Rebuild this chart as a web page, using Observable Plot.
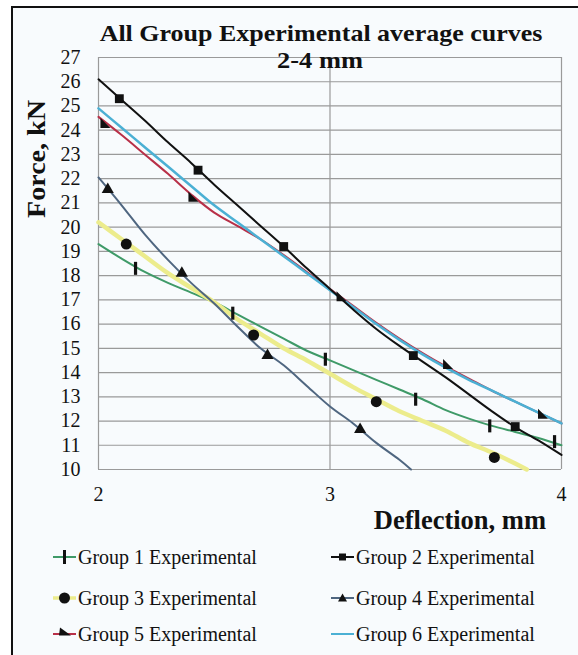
<!DOCTYPE html>
<html>
<head>
<meta charset="utf-8">
<script src="https://cdn.jsdelivr.net/npm/d3@7"></script>
<script src="https://cdn.jsdelivr.net/npm/@observablehq/plot@0.6"></script>
<style>
  html, body { margin: 0; padding: 0; background: #ffffff; }
  #wrap { position: relative; width: 578px; height: 655px; overflow: hidden; font-family: "Liberation Serif", "DejaVu Serif", serif; }
  #frame { position: absolute; left: 11px; top: 6px; width: 600px; height: 700px; border: 2px solid #111; background: #f8fbfd; box-sizing: border-box; }
  #chart { position: absolute; left: 0; top: 0; }
  .t { position: absolute; font-weight: bold; color: #111; white-space: nowrap; line-height: 1; }
  #legend { position: absolute; left: 0; top: 0; }
  .item { position: absolute; display: flex; align-items: center; font-size: 20px; line-height: 1; color: #111; white-space: nowrap; }
  .item svg { margin-right: 1px; }
</style>
</head>
<body>
<div id="wrap">
  <div id="frame"></div>
  <div id="chart"></div>
  <div class="t" id="title" style="left:321px;top:22px;font-size:23px;transform:translateX(-50%) scaleX(1.13);">All Group Experimental average curves</div>
  <div class="t" id="sub" style="left:320px;top:49px;font-size:23px;transform:translateX(-50%) scaleX(1.15);">2-4 mm</div>
  <div class="t" id="ylab" style="left:37px;top:159px;font-size:26px;transform:translate(-50%,-50%) rotate(-90deg) scaleX(1.08);">Force, kN</div>
  <div class="t" id="xlab" style="right:32px;top:507px;font-size:26.5px;">Deflection, mm</div>
  <div id="legend"></div>
</div>
<script>
// ---- data ----
const xs = [2, 2.1, 2.2, 2.3, 2.4, 2.5, 2.6, 2.7, 2.8, 2.9, 3.0, 3.1, 3.2, 3.3, 3.4, 3.5, 3.6, 3.7, 3.8, 3.9, 4.0];

const g1 = [19.3, 18.7, 18.15, 17.7, 17.3, 16.9, 16.4, 15.9, 15.4, 14.9, 14.5, 14.1, 13.7, 13.3, 12.9, 12.45, 12.1, 11.8, 11.55, 11.3, 11.0];
const g2 = [26.1, 25.25, 24.4, 23.5, 22.65, 21.75, 20.9, 20.05, 19.2, 18.3, 17.45, 16.6, 15.8, 15.1, 14.45, 13.8, 13.1, 12.4, 11.75, 11.2, 10.6];
const g3x = [2, 2.1, 2.2, 2.3, 2.4, 2.5, 2.6, 2.7, 2.8, 2.9, 3.0, 3.1, 3.2, 3.3, 3.4, 3.5, 3.6, 3.7, 3.8, 3.85];
const g3 = [20.2, 19.5, 18.8, 18.1, 17.5, 16.9, 16.2, 15.6, 15.0, 14.5, 13.95, 13.4, 12.9, 12.4, 12.0, 11.6, 11.1, 10.7, 10.25, 10.0];
const g4x = [2, 2.1, 2.2, 2.3, 2.4, 2.5, 2.6, 2.7, 2.8, 2.9, 3.0, 3.1, 3.2, 3.3, 3.35];
const g4 = [22.05, 20.9, 19.7, 18.65, 17.7, 16.85, 15.9, 15.0, 14.3, 13.45, 12.6, 11.9, 11.1, 10.4, 10.0];
const g5 = [24.55, 23.8, 23.0, 22.2, 21.35, 20.6, 20.05, 19.5, 18.85, 18.15, 17.45, 16.75, 16.05, 15.4, 14.8, 14.25, 13.75, 13.25, 12.8, 12.35, 11.9];
const g6 = [24.9, 24.1, 23.3, 22.5, 21.7, 20.9, 20.2, 19.5, 18.8, 18.1, 17.4, 16.7, 16.0, 15.35, 14.75, 14.2, 13.7, 13.25, 12.8, 12.35, 11.9];

// marker positions
const m1x = [2.16, 2.58, 2.98, 3.37, 3.69, 3.97];
const m1y = [18.3, 16.45, 14.55, 12.9, 11.8, 11.15];
const m2x = [2.09, 2.43, 2.8, 3.36, 3.8];
const m2y = [25.3, 22.35, 19.2, 14.7, 11.77];
const m3x = [2.12, 2.67, 3.2, 3.71];
const m3y = [19.3, 15.55, 12.8, 10.5];
const m4x = [2.04, 2.36, 2.73, 3.13];
const m4y = [21.55, 18.1, 14.7, 11.65];
const m5x = [2.03, 2.41, 3.05, 3.51, 3.92];
const m5y = [24.3, 21.25, 17.15, 14.35, 12.3];

const yTicks = d3.range(10, 28);
const xTicks = [2, 3, 4];

const names = ["Group 1 Experimental", "Group 2 Experimental", "Group 3 Experimental",
               "Group 4 Experimental", "Group 5 Experimental", "Group 6 Experimental"];
const colors = ["#3f9a68", "#111111", "#ecec8c", "#4f6680", "#b83048", "#4bb0d4"];
const widths = [2, 2, 4.5, 2, 2, 2.5];

// ---- build tables ----
const pts = (x, y) => x.map((v, i) => ({x: v, y: y[i]}));
const lines = [pts(xs, g1), pts(xs, g2), pts(g3x, g3), pts(g4x, g4), pts(xs, g5), pts(xs, g6)];

// custom symbols
const vbar = {draw(ctx, size) { const h = 6.5, w = 1.6; ctx.moveTo(-w, -h); ctx.lineTo(w, -h); ctx.lineTo(w, h); ctx.lineTo(-w, h); ctx.closePath(); }};
const rtri = {draw(ctx, size) { const r = 5; ctx.moveTo(-r, -r); ctx.lineTo(r, r); ctx.lineTo(-r, r); ctx.closePath(); }};

const drawOrder = [0, 2, 3, 4, 5, 1];
const marks = [
  Plot.gridY(yTicks, {stroke: "#9a9a9a", strokeOpacity: 1, strokeWidth: 1.2}),
  Plot.gridX(xTicks, {stroke: "#9a9a9a", strokeOpacity: 1, strokeWidth: 1.2}),
];
for (const i of drawOrder) {
  marks.push(Plot.line(lines[i], {x: "x", y: "y", stroke: colors[i], strokeWidth: widths[i], curve: "catmull-rom"}));
}
marks.push(
  Plot.dot(pts(m1x, m1y), {x: "x", y: "y", symbol: vbar, fill: "#111", stroke: "none", r: 5}),
  Plot.dot(pts(m2x, m2y), {x: "x", y: "y", symbol: "square", fill: "#111", stroke: "none", r: 5}),
  Plot.dot(pts(m3x, m3y), {x: "x", y: "y", symbol: "circle", fill: "#111", stroke: "none", r: 5.5}),
  Plot.dot(pts(m4x, m4y), {x: "x", y: "y", symbol: "triangle", fill: "#111", stroke: "none", r: 4.5}),
  Plot.dot(pts(m5x, m5y), {x: "x", y: "y", symbol: rtri, fill: "#111", stroke: "none", r: 5})
);

const chart = Plot.plot({
  width: 578,
  height: 505,
  marginLeft: 98,
  marginRight: 17,
  marginTop: 57,
  marginBottom: 36,
  style: {fontFamily: "Liberation Serif, serif", fontSize: "20px", color: "#111", background: "transparent"},
  x: {domain: [2, 4], ticks: xTicks, tickSize: 0, tickPadding: 17, label: null, tickFormat: d3.format("d")},
  y: {domain: [10, 27], ticks: yTicks, tickSize: 0, tickPadding: 18, label: null},
  marks
});
document.getElementById("chart").appendChild(chart);

// ---- legend ----
const leg = document.getElementById("legend");
const legPos = [[53, 557], [331, 557], [53, 598], [331, 598], [53, 634], [331, 634]];
const legSym = [
  '<rect x="10" y="3" width="3" height="14" fill="#111"/>',
  '<rect x="8" y="6.5" width="7" height="7" fill="#111"/>',
  '<circle cx="11.5" cy="10" r="5.5" fill="#111"/>',
  '<path d="M11.5,5.5 L16,13.5 L7,13.5 Z" fill="#111"/>',
  '<path d="M7,3.5 L18,11.5 L6,11.5 Z" fill="#111"/>',
  ''
];
names.forEach((n, i) => {
  const d = document.createElement("div");
  d.className = "item";
  d.style.left = legPos[i][0] + "px";
  d.style.top = (legPos[i][1] - 10) + "px";
  d.innerHTML = `<svg width="24" height="20"><line x1="0" x2="23" y1="10" y2="10" stroke="${colors[i]}" stroke-width="${i === 2 ? 3.5 : 2}"/>${legSym[i]}</svg><span>${n}</span>`;
  leg.appendChild(d);
});
</script>
</body>
</html>
